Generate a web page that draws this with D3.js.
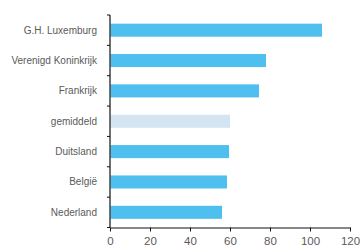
<!DOCTYPE html>
<html>
<head>
<meta charset="utf-8">
<script src="https://cdn.jsdelivr.net/npm/d3@7"></script>
<style>
  body { margin: 0; background: #fff; }
  svg { display: block; font-family: "Liberation Sans", Arial, sans-serif; }
</style>
</head>
<body>
<svg id="chart" width="360" height="248"></svg>
<script>
const countries = ["G.H. Luxemburg", "Verenigd Koninkrijk", "Frankrijk", "gemiddeld", "Duitsland", "België", "Nederland"];
const values = [106, 78, 74.5, 60, 59.5, 58.5, 56];
const xTicks = [0, 20, 40, 60, 80, 100, 120];
const averageLabel = "gemiddeld";

const margins = [15, 10, 20, 110]; // top, right, bottom, left
const [mt, mr, mb, ml] = margins;
const axisY = 227.5;

const svg = d3.select("#chart");
const data = countries.map((c, i) => ({ name: c, value: values[i] }));

const x = d3.scaleLinear().domain([0, 120]).range([ml, 350]);
const y = d3.scaleBand().domain(countries).range([mt, axisY]).paddingInner(0.57).paddingOuter(0.285);

// bars
svg.append("g")
  .selectAll("rect")
  .data(data)
  .join("rect")
  .attr("x", x(0) + 0.5)
  .attr("y", d => y(d.name))
  .attr("width", d => x(d.value) - x(0) - 0.5)
  .attr("height", y.bandwidth())
  .attr("fill", d => d.name === averageLabel ? "#d3e5f3" : "#4fbfef");

// y axis, ticks sit on the band boundaries
const step = y.step();
const yAxis = svg.append("g");
yAxis.append("line")
  .attr("x1", x(0)).attr("x2", x(0))
  .attr("y1", mt).attr("y2", axisY)
  .attr("stroke", "#111").attr("stroke-width", 1.2);
yAxis.selectAll("line.tick")
  .data(d3.range(countries.length + 1))
  .join("line")
  .attr("class", "tick")
  .attr("x1", x(0) - 3).attr("x2", x(0))
  .attr("y1", i => mt + i * step).attr("y2", i => mt + i * step)
  .attr("stroke", "#111");
yAxis.selectAll("text")
  .data(countries)
  .join("text")
  .attr("x", 97)
  .attr("y", d => y(d) + y.bandwidth() / 2)
  .attr("dy", "0.35em")
  .attr("text-anchor", "end")
  .attr("fill", "#5a5a5a")
  .style("font-size", "10px")
  .text(d => d);

// x axis
const xAxis = svg.append("g")
  .attr("transform", `translate(0, ${axisY})`)
  .call(d3.axisBottom(x).tickValues(xTicks).tickSize(4).tickSizeOuter(0).tickPadding(5));
xAxis.select(".domain").attr("stroke", "#111").attr("stroke-width", 1.2);
xAxis.selectAll(".tick line").attr("stroke", "#111");
xAxis.selectAll(".tick text")
  .attr("fill", "#5a5a5a")
  .style("font-size", "11.5px")
  .style("font-family", "'Liberation Sans', Arial, sans-serif");
</script>
</body>
</html>
